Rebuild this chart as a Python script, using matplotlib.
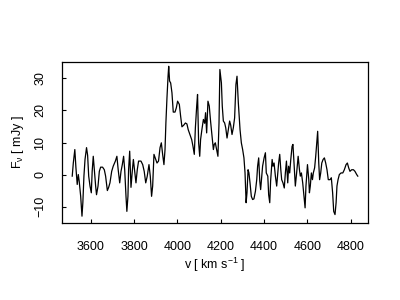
import numpy as np
import matplotlib
matplotlib.use("Agg")
import matplotlib.pyplot as plt

plt.rcParams['font.family'] = ['Liberation Sans', 'DejaVu Sans']
plt.rcParams['mathtext.fontset'] = 'custom'
plt.rcParams['mathtext.rm'] = 'Liberation Sans'
plt.rcParams['mathtext.it'] = 'Liberation Sans'

# velocity (km/s) and flux density (mJy)
velocity = [
    3515, 3520, 3527, 3532, 3538, 3543, 3547, 3554, 3560, 3564,
    3569, 3574, 3581, 3586, 3591, 3597, 3603, 3607, 3612, 3617,
    3623, 3627, 3634, 3640, 3646, 3655, 3663, 3669, 3677, 3683,
    3689, 3697, 3704, 3714, 3721, 3727, 3734, 3740, 3746, 3752,
    3757, 3763, 3767, 3772, 3775, 3780, 3786, 3792, 3797, 3803,
    3809, 3815, 3821, 3832, 3840, 3847, 3854, 3861, 3869, 3875,
    3881, 3886, 3892, 3900, 3906, 3913, 3920, 3926, 3932, 3938,
    3943, 3947, 3952, 3957, 3960, 3964, 3969, 3975, 3981, 3989,
    3995, 4001, 4009, 4015, 4021, 4029, 4037, 4044, 4050, 4058,
    4066, 4072, 4078, 4083, 4089, 4093, 4098, 4103, 4107, 4113,
    4120, 4126, 4130, 4135, 4141, 4147, 4153, 4160, 4166, 4170,
    4175, 4181, 4187, 4192, 4196, 4203, 4207, 4212, 4218, 4223,
    4229, 4235, 4241, 4246, 4252, 4258, 4264, 4270, 4275, 4281,
    4289, 4295, 4301, 4307, 4312, 4317, 4321, 4326, 4330, 4335,
    4341, 4347, 4353, 4360, 4366, 4370, 4375, 4380, 4384, 4389,
    4393, 4400, 4406, 4410, 4417, 4421, 4426, 4430, 4437, 4441,
    4446, 4452, 4458, 4463, 4467, 4472, 4477, 4481, 4487, 4493,
    4498, 4503, 4509, 4513, 4518, 4523, 4529, 4533, 4538, 4544,
    4550, 4557, 4563, 4567, 4572, 4578, 4584, 4589, 4593, 4600,
    4606, 4609, 4613, 4618, 4623, 4627, 4633, 4638, 4643, 4647,
    4652, 4656, 4661, 4666, 4672, 4678, 4684, 4690, 4696, 4704,
    4710, 4716, 4721, 4727, 4732, 4736, 4741, 4747, 4755, 4763,
    4770, 4778, 4784, 4790, 4796, 4804, 4812, 4819, 4827, 4832,
]
flux = [
    -0.5, 3.6, 7.8, 2.2, -3.1, 0.0, -2.0, -6.8, -13.0, -8.8,
    -0.5, 4.7, 8.4, 6.0, -0.5, -3.6, -5.7, 1.0, 5.7, 1.5,
    -3.6, -6.3, -3.6, 1.0, 2.3, 2.3, 1.5, -0.5, -5.0, -4.0,
    -2.6, 1.0, 2.6, 4.2, 5.7, 1.5, -2.6, 1.0, 3.1, 5.7,
    1.5, -6.8, -11.5, -6.8, 1.5, 7.3, -4.0, 1.0, 4.7, 1.0,
    -2.6, 1.5, 4.2, 4.2, 3.1, 1.0, -2.6, -0.5, 3.1, -0.5,
    -6.8, -3.6, 6.3, 4.7, 3.6, 4.2, 8.4, 9.9, 6.3, 3.1,
    7.8, 16.1, 24.0, 30.7, 33.8, 29.2, 28.6, 25.5, 19.5, 19.5,
    20.8, 22.9, 21.9, 18.2, 14.9, 15.4, 16.1, 15.8, 14.0, 12.5,
    10.9, 8.8, 6.3, 14.6, 21.3, 25.0, 9.9, 5.7, 10.9, 14.0,
    17.2, 16.0, 19.3, 13.0, 22.9, 21.4, 16.7, 11.9, 7.8, 9.4,
    9.9, 7.8, 5.7, 16.1, 32.8, 28.6, 21.4, 16.7, 16.1, 14.6,
    11.4, 14.0, 16.7, 15.4, 12.5, 14.6, 17.7, 28.1, 30.7, 22.5,
    14.0, 9.9, 7.8, 5.2, 0.5, -8.8, -5.7, 1.5, 0.5, -2.6,
    -6.8, -7.8, -7.6, -5.2, -1.6, 2.6, 5.2, -2.0, -4.7, -0.5,
    2.6, 5.2, 6.8, 0.5, -0.5, -6.3, -8.8, -2.0, 4.7, 2.6,
    3.6, -0.5, -3.6, 0.5, 3.6, 6.3, 1.5, -1.6, -2.6, -4.2,
    0.5, 4.2, -2.6, 2.6, 0.5, 4.7, 8.8, 9.4, 3.6, -3.6,
    0.5, 5.7, 1.5, -0.5, 0.5, -2.6, -6.8, -10.4, -3.6, 3.1,
    -1.6, -5.7, -3.6, 0.5, -1.6, 0.5, 2.1, 5.7, 9.9, 13.5,
    3.6, -1.6, 0.5, 3.6, 4.7, 5.2, 3.6, 1.5, -1.6, -1.6,
    -1.0, -5.7, -11.5, -12.5, -8.8, -3.6, -1.6, 0.0, 0.5, 0.5,
    1.5, 3.1, 3.6, 2.1, 1.0, 1.5, 1.5, 1.0, 0.0, -0.5,
]
x_ticks = [3600, 3800, 4000, 4200, 4400, 4600, 4800]
y_ticks = [-10, 0, 10, 20, 30]

fig = plt.figure(figsize=(4, 3), dpi=100)
ax = fig.add_axes([0.154, 0.257, 0.767, 0.537])
ax.plot(velocity, flux, color='black', linewidth=0.9)

ax.set_xlim(3466, 4881)
ax.set_ylim(-15.1, 35.2)
ax.set_xticks(x_ticks)
ax.set_yticks(y_ticks)
ax.tick_params(direction='in', length=3, width=0.8, labelsize=9)
ax.tick_params(axis='x', pad=13)
ax.tick_params(axis='y', pad=11)
for lbl in ax.get_yticklabels():
    lbl.set_rotation(90)
    lbl.set_va('center')
for s in ax.spines.values():
    s.set_linewidth(0.9)

ax.set_xlabel(r'v [ km s$^{-1}$ ]', fontsize=9, labelpad=2)
ax.set_ylabel(r'F$_\nu$ [ mJy ]', fontsize=9, labelpad=6)

fig.savefig('out.png', dpi=100)
